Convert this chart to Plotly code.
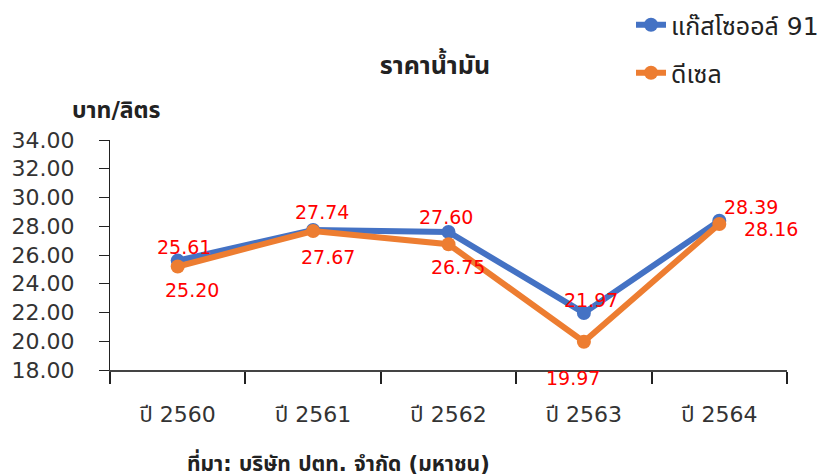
import plotly.graph_objects as go

years = ["ปี 2560", "ปี 2561", "ปี 2562", "ปี 2563", "ปี 2564"]
gasohol91 = [25.61, 27.74, 27.60, 21.97, 28.39]
diesel = [25.20, 27.67, 26.75, 19.97, 28.16]
y_ticks = [18, 20, 22, 24, 26, 28, 30, 32, 34]

FONT = "Tahoma, DejaVu Sans, Noto Sans Thai, sans-serif"
BLUE = "#4472C4"
ORANGE = "#ED7D31"
W, H = 822, 467  # page adds an 8px body margin

fig = go.Figure()
fig.add_trace(go.Scatter(
    x=years, y=gasohol91, name="แก๊สโซออล์ 91", mode="lines+markers",
    line=dict(color=BLUE, width=6), marker=dict(size=14, color=BLUE),
    legend="legend"))
fig.add_trace(go.Scatter(
    x=years, y=diesel, name="ดีเซล", mode="lines+markers",
    line=dict(color=ORANGE, width=6), marker=dict(size=14, color=ORANGE),
    legend="legend2"))

# data labels (offsets in pixels)
g_off = [(6, 14), (9, 18), (-3, 15), (7, 13), (32, 14)]
d_off = [(14, -23), (15, -26), (9, -23), (-11, -36), (52, -5)]
for i, (yr, v) in enumerate(zip(years, gasohol91)):
    fig.add_annotation(x=yr, y=v, text=f"{v:.2f}", showarrow=False,
                       xshift=g_off[i][0], yshift=g_off[i][1],
                       font=dict(family=FONT, size=19, color="#FF0000"))
for i, (yr, v) in enumerate(zip(years, diesel)):
    fig.add_annotation(x=yr, y=v, text=f"{v:.2f}", showarrow=False,
                       xshift=d_off[i][0], yshift=d_off[i][1],
                       font=dict(family=FONT, size=19, color="#FF0000"))

fig.add_annotation(xref="paper", yref="paper", x=-0.059, y=1.13,
                   xanchor="left", yanchor="middle", showarrow=False,
                   text="<b>บาท/ลิตร</b>",
                   font=dict(family=FONT, size=23, color="#222222"))
fig.add_annotation(xref="paper", yref="paper", x=0.111, y=-0.404,
                   xanchor="left", yanchor="middle", showarrow=False,
                   text="<b>ที่มา: บริษัท ปตท. จำกัด (มหาชน)</b>",
                   font=dict(family=FONT, size=21, color="#222222"))

fig.update_layout(
    width=W, height=H,
    margin=dict(l=102, r=43, t=132, b=105, autoexpand=False),
    paper_bgcolor="white", plot_bgcolor="white",
    font=dict(family=FONT, color="#333333"),
    showlegend=True,
    title=dict(text="<b>ราคาน้ำมัน</b>", xref="paper", x=0.48, xanchor="center",
               y=1 - 57 / H, yanchor="middle",
               font=dict(family=FONT, size=25, color="#222222")),
    legend=dict(x=623 / W, y=1 - 17 / H, xref="container", yref="container",
                xanchor="left", yanchor="middle",
                font=dict(family=FONT, size=25, color="#222222"),
                bgcolor="rgba(0,0,0,0)"),
    legend2=dict(x=623 / W, y=1 - 65 / H, xref="container", yref="container",
                 xanchor="left", yanchor="middle",
                 font=dict(family=FONT, size=25, color="#222222"),
                 bgcolor="rgba(0,0,0,0)"),
    xaxis=dict(type="category", range=[-0.5, 4.5], tickson="boundaries",
               ticks="outside", ticklen=12, tickwidth=2, tickcolor="#222222",
               showline=True, linecolor="#444444", linewidth=2,
               showgrid=False, zeroline=False, ticklabelstandoff=24,
               tickfont=dict(family=FONT, size=22, color="#333333")),
    yaxis=dict(range=[18, 34], tickmode="array", tickvals=y_ticks,
               ticktext=[f"{t:.2f}" for t in y_ticks],
               ticks="outside", ticklen=10, tickwidth=1, tickcolor="#222222",
               showline=True, linecolor="#222222", linewidth=1,
               showgrid=False, zeroline=False, ticklabelstandoff=20,
               tickfont=dict(family=FONT, size=22, color="#333333")),
)

fig.write_html("out.html")
